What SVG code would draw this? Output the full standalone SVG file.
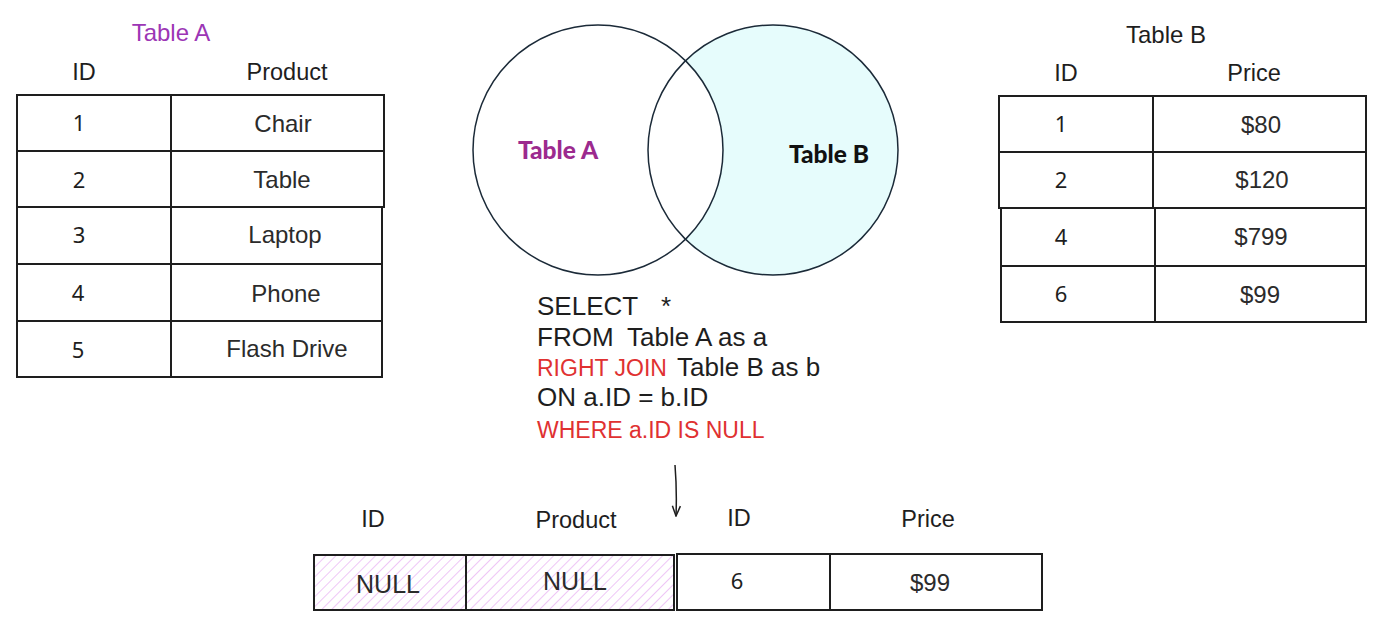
<svg xmlns="http://www.w3.org/2000/svg" width="1395" height="641" viewBox="0 0 1395 641">
<style>
.cell{fill:#fff;stroke:#1e1e1e;stroke-width:2}
.hd{font-family:"Liberation Sans",Arial,sans-serif;font-size:23.5px;fill:#1e1e1e;text-anchor:middle}
.tx{font-family:"Liberation Sans",Arial,sans-serif;font-size:24px;fill:#2b2b2b;text-anchor:middle}
.dg{font-family:"Noto Sans",sans-serif;font-size:22px;fill:#1e1e1e;text-anchor:middle}
.sql{font-family:"Liberation Sans",Arial,sans-serif;font-size:26px;fill:#1e1e1e}
.red{fill:#e03131;font-size:23px}
.vl{font-family:"Lato",sans-serif;font-weight:900;font-size:24.5px;text-anchor:middle}
</style>
<defs>
<pattern id="hatch" width="7" height="7" patternUnits="userSpaceOnUse" patternTransform="rotate(45)">
<rect width="7" height="7" fill="#fff"/>
<line x1="0" y1="0" x2="0" y2="7" stroke="#e9b3f3" stroke-width="1.5"/>
</pattern>
<marker id="ah" markerWidth="12" markerHeight="12" refX="11" refY="6" orient="auto" markerUnits="userSpaceOnUse" viewBox="0 0 12 12">
<path d="M1,2 L11,6 L1,10" fill="none" stroke="#1e1e1e" stroke-width="1.5"/>
</marker>
<clipPath id="clipB"><circle cx="773" cy="150" r="125"/></clipPath>
</defs>

<g id="tableA">
<text x="171" y="41" class="hd" style="fill:#9c36b5;font-size:24px">Table A</text>
<text x="84" y="80" class="hd">ID</text>
<text x="287" y="80" class="hd">Product</text>
<rect class="cell" x="17" y="95" width="154" height="56"/>
<rect class="cell" x="171" y="95" width="213" height="56"/>
<rect class="cell" x="17" y="151" width="154" height="56"/>
<rect class="cell" x="171" y="151" width="213" height="56"/>
<rect class="cell" x="17" y="207" width="154" height="57"/>
<rect class="cell" x="171" y="207" width="211" height="57"/>
<rect class="cell" x="17" y="264" width="154" height="57"/>
<rect class="cell" x="171" y="264" width="211" height="57"/>
<rect class="cell" x="17" y="321" width="154" height="56"/>
<rect class="cell" x="171" y="321" width="211" height="56"/>
<text x="79" y="131" class="dg">1</text>
<text x="79" y="188" class="dg">2</text>
<text x="79" y="243" class="dg">3</text>
<text x="78" y="301" class="dg">4</text>
<text x="78" y="358" class="dg">5</text>
<text x="283" y="132" class="tx">Chair</text>
<text x="282" y="188" class="tx">Table</text>
<text x="285" y="243" class="tx">Laptop</text>
<text x="286" y="302" class="tx">Phone</text>
<text x="287" y="357" class="tx">Flash Drive</text>
</g>

<g id="venn">
<circle cx="773" cy="150" r="125" fill="#e6fcfc"/>
<circle cx="598" cy="150" r="125" fill="#fff" clip-path="url(#clipB)"/>
<circle cx="598" cy="150" r="125" fill="none" stroke="#1b2a38" stroke-width="1.5"/>
<circle cx="773" cy="150" r="125" fill="none" stroke="#1b2a38" stroke-width="1.5"/>
<text x="558" y="159" class="vl" style="fill:#9c2a8e">Table A</text>
<text x="829" y="163" class="vl" style="fill:#111">Table B</text>
</g>

<g id="tableB">
<text x="1166" y="43" class="hd" style="font-size:24px">Table B</text>
<text x="1066" y="81" class="hd">ID</text>
<text x="1254" y="81" class="hd">Price</text>
<rect class="cell" x="999" y="96" width="154" height="56"/>
<rect class="cell" x="1153" y="96" width="213" height="56"/>
<rect class="cell" x="999" y="152" width="154" height="56"/>
<rect class="cell" x="1153" y="152" width="213" height="56"/>
<rect class="cell" x="1001" y="208" width="154" height="58"/>
<rect class="cell" x="1155" y="208" width="211" height="58"/>
<rect class="cell" x="1001" y="266" width="154" height="56"/>
<rect class="cell" x="1155" y="266" width="211" height="56"/>
<text x="1061" y="132" class="dg">1</text>
<text x="1061" y="188" class="dg">2</text>
<text x="1061" y="245" class="dg">4</text>
<text x="1061" y="302" class="dg">6</text>
<text x="1261" y="133" class="tx">$80</text>
<text x="1262" y="188" class="tx">$120</text>
<text x="1261" y="245" class="tx">$799</text>
<text x="1260" y="303" class="tx">$99</text>
</g>

<g id="sql">
<text x="537" y="315" class="sql">SELECT<tspan x="661">*</tspan></text>
<text x="537" y="346" class="sql">FROM<tspan x="627">Table A as a</tspan></text>
<text x="537" y="376" class="sql"><tspan class="red">RIGHT JOIN</tspan><tspan x="677">Table B as b</tspan></text>
<text x="537" y="406" class="sql">ON a.ID = b.ID</text>
<text x="537" y="438" class="sql red">WHERE a.ID IS NULL</text>
</g>

<g id="connectors">
<path d="M675,465 Q677,490 676,516" fill="none" stroke="#1e1e1e" stroke-width="1.5" marker-end="url(#ah)"/>
</g>

<g id="result">
<text x="373" y="527" class="hd">ID</text>
<text x="576" y="528" class="hd">Product</text>
<text x="739" y="526" class="hd">ID</text>
<text x="928" y="527" class="hd">Price</text>
<rect x="314" y="555" width="152" height="55" fill="url(#hatch)" stroke="#1e1e1e" stroke-width="2"/>
<rect x="466" y="555" width="208" height="55" fill="url(#hatch)" stroke="#1e1e1e" stroke-width="2"/>
<rect class="cell" x="677" y="554" width="153" height="56"/>
<rect class="cell" x="830" y="554" width="212" height="56"/>
<text x="388" y="593" class="tx" style="font-size:25px">NULL</text>
<text x="575" y="590" class="tx" style="font-size:25px">NULL</text>
<text x="737" y="589" class="dg">6</text>
<text x="930" y="591" class="tx">$99</text>
</g>
</svg>
